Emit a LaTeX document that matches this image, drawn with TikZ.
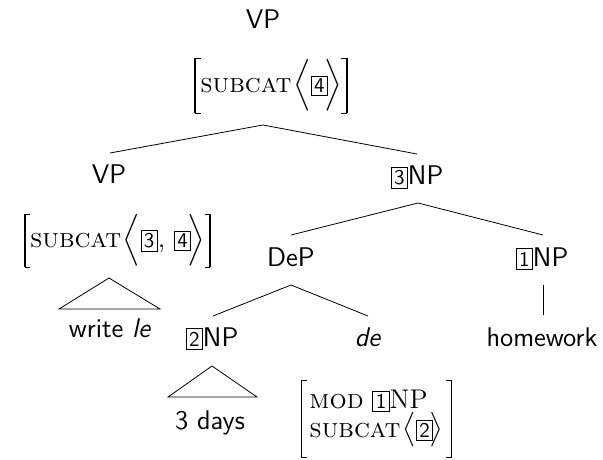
\documentclass[tikz,border=0pt]{standalone}
\usepackage{amsmath}
\newcommand\tagnum[1]{{\setlength\fboxsep{1.3pt}\fbox{\fontsize{10.5}{12}\selectfont\sffamily #1}}}
\newcommand\feat[1]{\textrm{\textsc{#1}}}
% square brackets of a feature structure, drawn on the borders of node #1
\newcommand\avmframe[1]{%
  \draw[line width=0.4pt] ([xshift=2.6pt]#1.north west) -- (#1.north west)
    -- (#1.south west) -- ([xshift=2.6pt]#1.south west);
  \draw[line width=0.4pt] ([xshift=-2.6pt]#1.north east) -- (#1.north east)
    -- (#1.south east) -- ([xshift=-2.6pt]#1.south east);
  \draw[line width=0.9pt] (#1.north west) -- (#1.south west)
    (#1.north east) -- (#1.south east);}
\begin{document}
\begin{tikzpicture}[x=0.5pt,y=-0.5pt,
  font=\fontsize{13.5}{16.2}\selectfont\sffamily,
  lbl/.style={inner sep=0pt, anchor=base},
  avm/.style={inner xsep=2.5pt, inner ysep=0pt, outer sep=0pt, anchor=center,
    font=\fontsize{13.5}{14.5}\selectfont}]
\useasboundingbox (0,0) rectangle (603,459);

% category labels
\node[lbl] (vp)    at (263,29)  {VP};
\node[lbl] (vpl)   at (109,184) {VP};
\node[lbl] (np3)   at (417,185) {\tagnum{3}NP};
\node[lbl] (dep)   at (291,266) {DeP};
\node[lbl] (np1)   at (542,266) {\tagnum{1}NP};
\node[lbl] (np2)   at (212,346) {\tagnum{2}NP};
\node[lbl] (de)    at (368,346) {\textit{de}};
\node[lbl] (hw)    at (542,346) {homework};
\node[lbl] (write) at (110,337) {write \textit{le}};
\node[lbl] (days)  at (210,429) {3 days};

% feature structures
\node[avm, minimum height=27.5pt] (avmvp) at (271,85.5)
  {$\feat{subcat}\mkern1mu\Bigl\langle\text{\tagnum{4}}\mkern-2.5mu\Bigr\rangle$};
\avmframe{avmvp}
\node[avm, minimum height=26.5pt] (avmvpl) at (117.5,240.5)
  {$\feat{subcat}\mkern1mu\Bigl\langle\text{\tagnum{3}}\text{, }\text{\tagnum{4}}\mkern-2.5mu\Bigr\rangle$};
\avmframe{avmvpl}
\node[avm, minimum height=38.5pt, align=left, inner xsep=4pt] (avmde) at (376.5,418.5)
  {\feat{mod}\ \tagnum{1}\textrm{NP}\\
   $\feat{subcat}\mkern1mu\bigl\langle\text{\tagnum{2}}\mkern-2mu\bigr\rangle$};
\avmframe{avmde}

% branch points and branch ends
\coordinate (b1)  at (263,125);
\coordinate (e1l) at (110,153);
\coordinate (e1r) at (417,154);
\coordinate (b2)  at (418,203);
\coordinate (e2l) at (291,235);
\coordinate (e2r) at (543,235);
\coordinate (b3)  at (291,285);
\coordinate (e3l) at (213,316);
\coordinate (e3r) at (368,316);
\coordinate (u1)  at (543,285);
\coordinate (u2)  at (543,315);

\draw (e1l) -- (b1) -- (e1r);
\draw (e2l) -- (b2) -- (e2r);
\draw (e3l) -- (b3) -- (e3r);
\draw (u1) -- (u2);

% roof triangles
\coordinate (t1) at (109,278);
\coordinate (t1l) at (59,309);
\coordinate (t1r) at (160,309);
\draw (t1l) -- (t1) -- (t1r) -- cycle;
\coordinate (t2) at (212,366);
\coordinate (t2l) at (168,397);
\coordinate (t2r) at (257,397);
\draw (t2l) -- (t2) -- (t2r) -- cycle;
\end{tikzpicture}
\end{document}
